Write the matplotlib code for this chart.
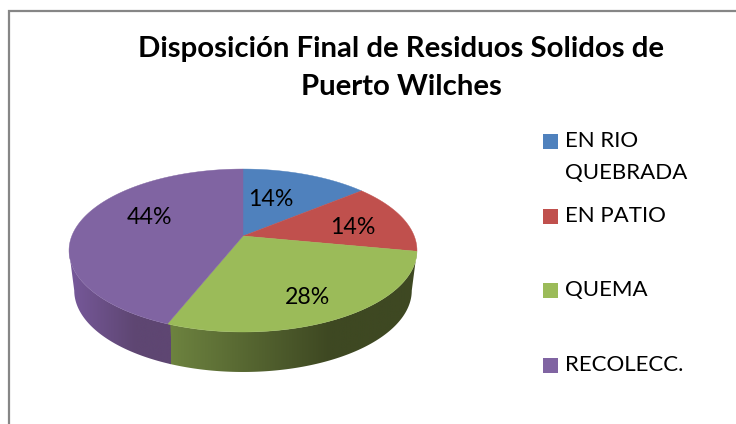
import numpy as np
import matplotlib
matplotlib.use('Agg')
import matplotlib.pyplot as plt
from matplotlib.patches import Polygon, Rectangle
from matplotlib.colors import LinearSegmentedColormap

title_lines = ['Disposición Final de Residuos Solidos de', 'Puerto Wilches']
labels = [['EN RIO', 'QUEBRADA'], ['EN PATIO'], ['QUEMA'], ['RECOLECC.']]
values = [14, 14, 28, 44]
colors = ['#4F81BD', '#C0504D', '#9BBB59', '#8064A2']
side_left = ['#3A5F8C', '#8E3A38', '#6E8440', '#77599B']
side_right = ['#2F4D72', '#6E2D2B', '#3E4822', '#5E4672']

plt.rcParams['font.family'] = ['Lato', 'DejaVu Sans']

fig = plt.figure(figsize=(7.36, 4.24), dpi=100)
ax = fig.add_axes([0, 0, 1, 1])

# Perspektive der Kreisscheibe
cx, cy = 243, 236
r, k, c = 171.2, 78.9, 0.178
depth = 40
rim_scale = 0.97


def project(theta):
    u, v = np.sin(theta), np.cos(theta)
    w = 1 + c * v
    return cx + r * u / w, cy - k * v / w


# sichtbarer Bereich der Seitenwand (zwischen rechtem und linkem Rand)
full = np.linspace(0, 2 * np.pi, 1440)
th_right = full[np.argmax(project(full)[0])]
th_left = full[np.argmin(project(full)[0])]

fracs = np.cumsum([0] + values) / sum(values) * 2 * np.pi
tops = []
for i in range(len(values)):
    th = np.linspace(fracs[i], fracs[i + 1], 120)
    x, y = project(th)
    tops.append((x, y))

    start, end = max(fracs[i] - 0.015, th_right), min(fracs[i + 1], th_left)
    if end <= start:
        continue

    # Seitenwand mit Farbverlauf, untere Kante etwas schmaler
    xs, ys = project(np.linspace(start, end, 120))
    xb = cx + (xs - cx) * rim_scale
    side = np.column_stack([np.r_[xs, xb[::-1]], np.r_[ys, ys[::-1] + depth]])
    clip = Polygon(side, closed=True, transform=ax.transData, fc='none', ec='none')
    ax.add_patch(clip)
    cmap = LinearSegmentedColormap.from_list('s', [(0, side_left[i]), (0.65, side_right[i]), (1, side_right[i])])
    im = ax.imshow(np.linspace(0, 1, 256).reshape(1, -1), cmap=cmap, aspect='auto',
                   extent=[xs.min(), xs.max(), ys.max() + depth, ys.min()], zorder=2)
    im.set_clip_path(clip)

for i, (x, y) in enumerate(tops):
    pts = np.column_stack([np.r_[cx, x], np.r_[cy, y]])
    ax.add_patch(Polygon(pts, closed=True, fc=colors[i], ec=colors[i], lw=0.3, zorder=3))

# Prozentwerte
label_x = [271, 353, 307, 149]
label_y = [199, 228, 298, 217]
for v, lx, ly in zip(values, label_x, label_y):
    ax.text(lx, ly, f'{v}%', ha='center', va='center', fontsize=16.7, color='black', zorder=4)

title_y = [49, 87]
for line, ty in zip(title_lines, title_y):
    ax.text(401, ty, line, ha='center', va='center', fontsize=21.2, fontweight='bold', color='black')

# Legende
legend_y = [141, 216, 290, 365]
for lab, col, ly in zip(labels, colors, legend_y):
    ax.add_patch(Rectangle((543, ly - 7.5), 15, 15, fc=col, ec='none'))
    for j, part in enumerate(lab):
        ax.text(565, ly + j * 32, part, ha='left', va='center', fontsize=16, color='black')

# Rahmen
ax.plot([8.5, 8.5, 736], [424, 10.5, 10.5], color='#868686', lw=1.6, solid_joinstyle='miter')

ax.set_xlim(0, 736)
ax.set_ylim(424, 0)
ax.axis('off')

fig.savefig('out.png', dpi=100)
